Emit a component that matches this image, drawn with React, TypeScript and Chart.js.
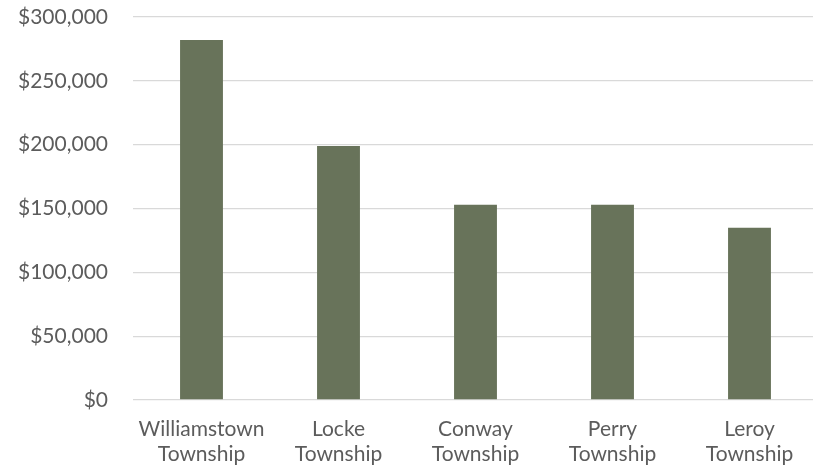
import React, { useEffect, useRef } from "react";
import { Chart, registerables } from "chart.js";

Chart.register(...registerables);

// Township names, split over two lines for the category axis
const townships: string[][] = [
  ["Williamstown", "Township"],
  ["Locke", "Township"],
  ["Conway", "Township"],
  ["Perry", "Township"],
  ["Leroy", "Township"],
];

// Amount per township, in dollars
const amounts: number[] = [282000, 199000, 153000, 153000, 135000];

// Value axis range
const yMin = 0;
const yMax = 300000;
const yStep = 50000;

const BAR_COLOR = "#68735a";
const TEXT_COLOR = "#5c5c5c";
const GRID_COLOR = "#d9d9d9";
const FONT_FAMILY = "Lato, 'Open Sans', sans-serif";

export default function App() {
  const canvasRef = useRef<HTMLCanvasElement | null>(null);

  useEffect(() => {
    const canvas = canvasRef.current;
    if (!canvas) return;
    const chart = new Chart(canvas, {
      type: "bar",
      data: {
        labels: townships,
        datasets: [
          {
            data: amounts,
            backgroundColor: BAR_COLOR,
            borderWidth: 0,
            categoryPercentage: 1,
            barPercentage: 0.313,
          },
        ],
      },
      options: {
        animation: false,
        responsive: false,
        maintainAspectRatio: false,
        layout: { padding: { top: 17, left: 0, right: 0, bottom: 0 } },
        plugins: {
          legend: { display: false },
          tooltip: { enabled: false },
        },
        scales: {
          x: {
            grid: { display: false },
            border: { display: false },
            afterFit: (scale: any) => {
              scale.height = 65;
            },
            ticks: {
              color: TEXT_COLOR,
              padding: 9,
              maxRotation: 0,
              autoSkip: false,
              font: { family: FONT_FAMILY, size: 21, lineHeight: 1.19 },
            },
          },
          y: {
            min: yMin,
            max: yMax,
            border: { display: false },
            grid: { color: GRID_COLOR, lineWidth: 1.3, drawTicks: false },
            afterFit: (scale: any) => {
              // fixed axis width; the label gap should not push the plot down
              scale.width = 133;
              scale.paddingTop = 0;
              scale.paddingBottom = 0;
            },
            ticks: {
              stepSize: yStep,
              color: TEXT_COLOR,
              padding: 25,
              font: { family: FONT_FAMILY, size: 21 },
              callback: (v: any) => "$" + Number(v).toLocaleString("en-US"),
            },
          },
        },
      },
    });
    return () => chart.destroy();
  }, []);

  return (
    <div style={{ position: "fixed", left: 0, top: 0, width: 813, height: 465, overflow: "hidden", background: "#fff" }}>
      <canvas ref={canvasRef} width={818} height={465} style={{ display: "block" }} />
    </div>
  );
}
